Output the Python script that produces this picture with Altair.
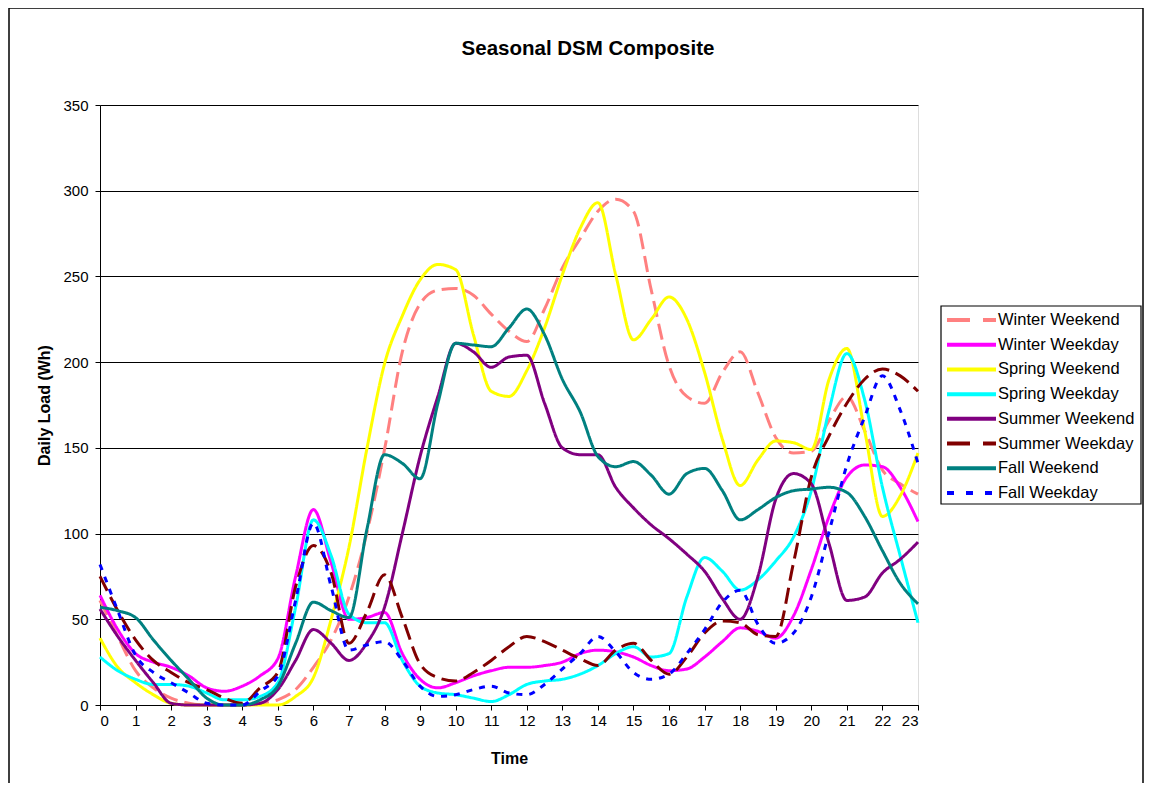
import altair as alt
import pandas as pd

# half-hour sample positions 0, 0.5, ..., 23
hours = [i * 0.5 for i in range(47)]

chart_title = "Seasonal DSM Composite"
series_names = ["Winter Weekend", "Winter Weekday", "Spring Weekend", "Spring Weekday",
                "Summer Weekend", "Summer Weekday", "Fall Weekend", "Fall Weekday"]

winter_weekend = [61, 40, 20, 10, 4, 1, 0, 0, 0, 1, 3, 9, 22, 38, 63, 100, 149, 206, 234, 242,
                  243, 239, 228, 218, 212, 231, 255, 272, 288, 295, 288, 242, 198, 180, 176, 194,
                  206, 182, 156, 147, 148, 166, 180, 160, 137, 129, 123]
winter_weekday = [64, 44, 30, 25, 22, 17, 10, 8, 11, 17, 27, 75, 114, 83, 50, 51, 54, 30, 15, 10,
                  13, 17, 20, 22, 22, 23, 25, 30, 32, 31, 28, 23, 20, 21, 28, 37, 45, 43, 39, 52,
                  79, 110, 133, 140, 139, 127, 107]
spring_weekend = [39, 22, 13, 6, 1, 0, 0, 0, 0, 0, 0, 5, 16, 50, 92, 149, 199, 227, 248, 257,
                  254, 216, 183, 180, 195, 220, 251, 278, 293, 251, 213, 225, 238, 225, 194, 155,
                  128, 143, 154, 153, 149, 190, 208, 160, 110, 122, 147]
spring_weekday = [28, 20, 15, 12, 12, 11, 7, 3, 3, 5, 13, 57, 108, 87, 53, 48, 48, 26, 11, 7,
                  6, 4, 2, 6, 12, 14, 15, 18, 23, 30, 34, 28, 30, 63, 86, 78, 67, 73, 84, 98,
                  125, 172, 205, 178, 127, 87, 48]
summer_weekend = [56, 40, 26, 13, 1, 0, 0, 0, 0, 1, 9, 26, 44, 36, 26, 36, 57, 100, 145, 180,
                  211, 206, 197, 203, 204, 176, 150, 146, 146, 127, 115, 105, 97, 88, 78, 62,
                  50, 75, 120, 135, 129, 94, 61, 63, 77, 85, 95]
summer_weekday = [75, 55, 38, 26, 19, 13, 9, 4, 1, 10, 19, 69, 93, 77, 36, 54, 76, 51, 24, 16,
                  14, 19, 26, 34, 40, 37, 32, 27, 23, 32, 36, 26, 18, 28, 42, 49, 48, 41, 40, 83,
                  133, 157, 176, 190, 196, 192, 183]
fall_weekend = [57, 55, 51, 38, 26, 15, 4, 0, 0, 3, 11, 36, 60, 55, 51, 102, 146, 141, 132, 176,
                211, 210, 209, 220, 231, 216, 190, 171, 145, 139, 142, 134, 123, 135, 138, 125,
                108, 114, 121, 125, 126, 127, 124, 110, 90, 71, 59]
fall_weekday = [82, 55, 29, 19, 13, 7, 1, 0, 0, 8, 17, 61, 106, 69, 32, 35, 37, 26, 11, 5,
                6, 9, 11, 7, 6, 12, 21, 30, 40, 31, 19, 15, 18, 30, 44, 60, 67, 47, 36, 42,
                63, 101, 140, 168, 192, 172, 141]

all_values = [winter_weekend, winter_weekday, spring_weekend, spring_weekday,
              summer_weekend, summer_weekday, fall_weekend, fall_weekday]

colors = ["#FF8080", "#FF00FF", "#FFFF00", "#00FFFF", "#800080", "#800000", "#008080", "#0000FF"]
line_dashes = [[16, 7], [1, 0], [1, 0], [1, 0], [1, 0], [16, 7], [1, 0], [6, 7]]
legend_dashes = [[23, 13], [1, 0], [1, 0], [1, 0], [1, 0], [23, 13], [1, 0], [7, 12]]

x_ticks = list(range(24))
y_ticks = [0, 50, 100, 150, 200, 250, 300, 350]

rows = []
for name, vals in zip(series_names, all_values):
    for h, v in zip(hours, vals):
        rows.append({"Time": h, "Load": v, "Series": name})
df = pd.DataFrame(rows)

legend_df = pd.DataFrame({"Series": series_names, "idx": list(range(len(series_names)))})

FONT = "Liberation Sans"
color_scale = alt.Scale(domain=series_names, range=colors)

lines = alt.Chart(df).mark_line(strokeWidth=3, interpolate="monotone").encode(
    x=alt.X("Time:Q",
            scale=alt.Scale(domain=[0, 23], nice=False, zero=False),
            axis=alt.Axis(values=x_ticks, format="d", title="Time", grid=False,
                          labelFont=FONT, labelFontSize=15, labelColor="black",
                          labelPadding=3, tickSize=5, tickColor="black",
                          domainColor="black", titleFont=FONT, titleFontSize=16,
                          titleFontWeight="bold", titleColor="black",
                          titleX=409, titleY=53, titleBaseline="middle")),
    y=alt.Y("Load:Q",
            scale=alt.Scale(domain=[0, 350], nice=False),
            axis=alt.Axis(values=y_ticks, title="Daily Load (Wh)", grid=True,
                          gridColor="black", gridWidth=1,
                          labelFont=FONT, labelFontSize=15, labelColor="black",
                          labelPadding=7, tickSize=5, tickColor="black",
                          domainColor="black", titleFont=FONT, titleFontSize=16,
                          titleFontWeight="bold", titleColor="black",
                          titleX=-56, titleY=300, titleAngle=270,
                          titleAlign="center", titleBaseline="middle")),
    color=alt.Color("Series:N", scale=color_scale, legend=None),
    strokeDash=alt.StrokeDash("Series:N", scale=alt.Scale(domain=series_names, range=line_dashes),
                              legend=None),
)

one_row = alt.Data(values=[{"a": 1}])

border = alt.Chart(one_row).mark_rect(
    filled=False, stroke="black", strokeWidth=1.5
).encode(
    x=alt.value(-91), x2=alt.value(1043), y=alt.value(-97), y2=alt.value(800)
)

title_text = alt.Chart(one_row).mark_text(
    text=chart_title, font=FONT, fontSize=20.5, fontWeight="bold", color="black",
    align="center", baseline="alphabetic"
).encode(x=alt.value(488), y=alt.value(-50))

legend_box = alt.Chart(one_row).mark_rect(
    fill="white", stroke="black", strokeWidth=1.2
).encode(
    x=alt.value(841), x2=alt.value(1041), y=alt.value(201), y2=alt.value(399)
)

legend_y = alt.Y("idx:Q", scale=alt.Scale(domain=[0, 7], range=[215, 388]), axis=None)

legend_rules = alt.Chart(legend_df).mark_rule(strokeWidth=4).encode(
    x=alt.value(847), x2=alt.value(896), y=legend_y,
    color=alt.Color("Series:N", scale=color_scale, legend=None),
    strokeDash=alt.StrokeDash("Series:N", scale=alt.Scale(domain=series_names, range=legend_dashes),
                              legend=None),
)

legend_labels = alt.Chart(legend_df).mark_text(
    font=FONT, fontSize=16.5, color="black", align="left", baseline="middle"
).encode(
    x=alt.value(898), y=legend_y, text="Series:N"
)

chart = alt.layer(border, title_text, lines, legend_box, legend_rules, legend_labels).resolve_scale(
    y="independent", strokeDash="independent"
).properties(
    width=818, height=600,
    padding={"left": 92, "top": 97, "right": 226, "bottom": 78},
    autosize=alt.AutoSizeParams(type="none"),
).configure_view(strokeWidth=0).configure(background="white")

chart.save("out.html", embed_options={"renderer": "svg", "actions": False})
